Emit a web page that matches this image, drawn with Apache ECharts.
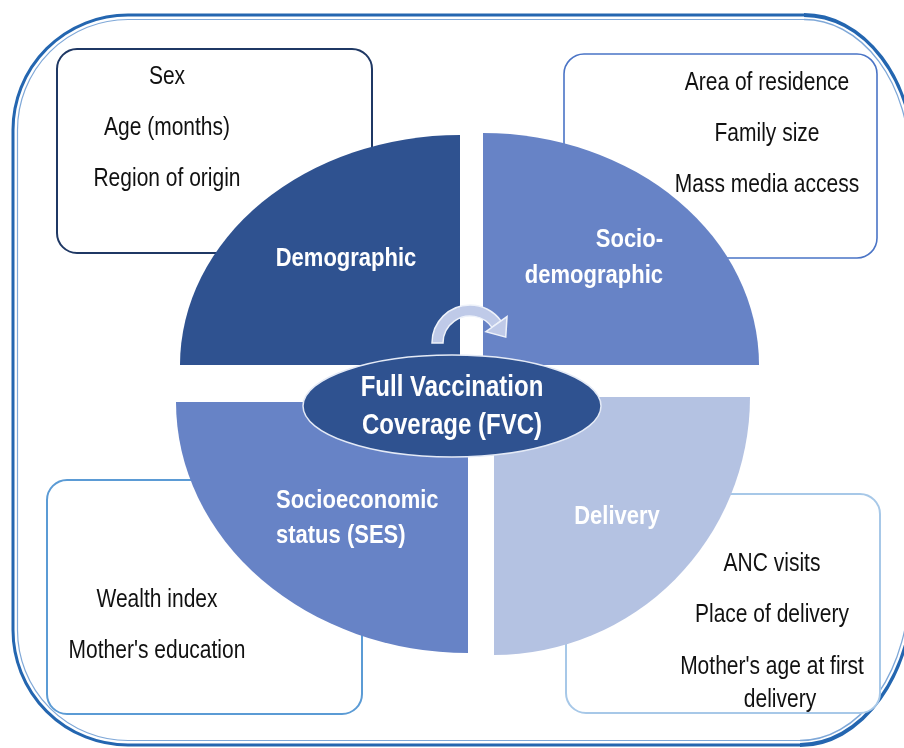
<!DOCTYPE html>
<html>
<head>
<meta charset="utf-8">
<script src="https://cdn.jsdelivr.net/npm/echarts@6/dist/echarts.min.js"></script>
<style>
  html, body { margin: 0; padding: 0; background: #ffffff; overflow: hidden; }
  #chart { width: 904px; height: 748px; }
</style>
</head>
<body>
<div id="chart"></div>
<script>
// ---- Diagram content ----
const centerLabel = ['Full Vaccination', 'Coverage (FVC)'];
const quadrantNames = ['Demographic', 'Socio-\ndemographic', 'Socioeconomic\nstatus (SES)', 'Delivery'];
const demographicFactors = ['Sex', 'Age (months)', 'Region of origin'];
const socioDemographicFactors = ['Area of residence', 'Family size', 'Mass media access'];
const sesFactors = ['Wealth index', "Mother's education"];
const deliveryFactors = ['ANC visits', 'Place of delivery', "Mother's age at first\ndelivery"];

const FONT = '"Liberation Sans", Arial, Helvetica, sans-serif';
const SY = 1.2; // vertical stretch of the reference text

function txt(x, y, text, opt) {
  opt = opt || {};
  const size = opt.size || 21;
  const weight = opt.bold ? 'bold ' : '';
  const align = opt.align || 'center';
  return {
    type: 'text', x: x, y: y, scaleY: SY, z: 50,
    style: {
      text: text, x: 0, y: 0,
      font: weight + size + 'px ' + FONT,
      fill: opt.color || '#111111',
      textAlign: align, align: align,
      textVerticalAlign: 'middle', verticalAlign: 'middle',
      lineHeight: opt.lineHeight || Math.round(size * 1.3)
    }
  };
}

function factorTexts(list, cx, y0, step, wrapStep) {
  const out = [];
  let y = y0;
  list.forEach(function (item) {
    const lines = item.split('\n');
    lines.forEach(function (ln, i) {
      out.push(txt(cx + (i > 0 ? 8 : 0), y, ln, {}));
      y += (i < lines.length - 1) ? wrapStep : 0;
    });
    y += step;
  });
  return out;
}

function quadrant(cx, cy, rx, ry, a0, a1, color) {
  return {
    type: 'sector', x: cx, y: cy, scaleX: rx / ry, z: 20,
    shape: { cx: 0, cy: 0, r: ry, r0: 0, startAngle: a0, endAngle: a1, clockwise: true },
    style: { fill: color }
  };
}

function box(x, y, w, h, color, lw) {
  return {
    type: 'rect', z: 10,
    shape: { x: x, y: y, width: w, height: h, r: 20 },
    style: { fill: '#ffffff', stroke: color, lineWidth: lw }
  };
}

const PI = Math.PI;
const elements = [];

// Outer frame: double line built from straight edges and (elliptical) corner arcs
function frame(inset, color, lw) {
  const L = 13 + inset, T = 15 + inset, B = 745 - inset, R = 914 - inset;
  const corners = [
    { cx: 128, cy: 130, rx: 115 - inset, ry: 115 - inset, a0: PI, a1: 1.5 * PI },
    { cx: 804, cy: 161, rx: 110 - inset, ry: 146 - inset, a0: 1.5 * PI, a1: 2 * PI },
    { cx: 800, cy: 584, rx: 114 - inset, ry: 161 - inset, a0: 0, a1: 0.5 * PI },
    { cx: 128, cy: 630, rx: 115 - inset, ry: 115 - inset, a0: 0.5 * PI, a1: PI }
  ];
  const st = { stroke: color, lineWidth: lw, fill: null };
  [[128, T, 804, T], [L, 130, L, 630], [128, B, 800, B], [R, 161, R, 584]].forEach(function (s) {
    elements.push({ type: 'line', z: 1, shape: { x1: s[0], y1: s[1], x2: s[2], y2: s[3] }, style: st });
  });
  corners.forEach(function (c) {
    elements.push({
      type: 'arc', z: 1, x: c.cx, y: c.cy, scaleY: c.ry / c.rx,
      shape: { cx: 0, cy: 0, r: c.rx, startAngle: c.a0, endAngle: c.a1, clockwise: true },
      style: { stroke: color, lineWidth: lw, fill: null, strokeNoScale: true }
    });
  });
}
frame(0, '#2466b0', 3);
frame(4.5, '#7fa8d8', 1.2);

// Factor boxes
elements.push(box(57, 49, 315, 204, '#1f3864', 2));
elements.push(box(564, 54, 313, 204, '#4a74c6', 1.6));
elements.push(box(47, 480, 315, 234, '#5b9bd5', 2));
elements.push(box(566, 494, 314, 219, '#a7c8e8', 2));

// Quadrants
elements.push(quadrant(460, 365, 280, 230, PI, 1.5 * PI, '#2f5290'));
elements.push(quadrant(483, 365, 276, 232, 1.5 * PI, 2 * PI, '#6783c6'));
elements.push(quadrant(468, 402, 292, 251, 0.5 * PI, PI, '#6783c6'));
elements.push(quadrant(494, 397, 256, 258, 0, 0.5 * PI, '#b4c2e2'));

// Central ellipse
elements.push({
  type: 'ellipse', z: 30,
  shape: { cx: 452, cy: 406, rx: 149, ry: 51 },
  style: { fill: '#2f5290', stroke: '#e4eaf6', lineWidth: 1.5 }
});

// Curved arrow
const ac = [470, 343], aEnd = 2 * PI - 0.62;
elements.push({
  type: 'sector', z: 35,
  shape: { cx: ac[0], cy: ac[1], r: 38, r0: 27, startAngle: PI, endAngle: aEnd, clockwise: true },
  style: { fill: '#bfcae8', stroke: '#eef2fa', lineWidth: 1.5 }
});
(function () {
  const rm = 32.5;
  const bx = ac[0] + rm * Math.cos(aEnd), by = ac[1] + rm * Math.sin(aEnd);
  const rdx = Math.cos(aEnd), rdy = Math.sin(aEnd);
  const tdx = -Math.sin(aEnd), tdy = Math.cos(aEnd);
  const hw = 13, len = 16;
  elements.push({
    type: 'polygon', z: 36,
    shape: { points: [
      [bx + rdx * hw, by + rdy * hw],
      [bx + tdx * len, by + tdy * len],
      [bx - rdx * hw, by - rdy * hw]
    ] },
    style: { fill: '#bfcae8', stroke: '#eef2fa', lineWidth: 1.5 }
  });
})();

// Quadrant labels
elements.push(txt(346, 259, quadrantNames[0], { bold: true, size: 22, color: '#ffffff' }));
elements.push(txt(663, 258, quadrantNames[1], { bold: true, size: 22, color: '#ffffff', align: 'right', lineHeight: 30 }));
elements.push(txt(276, 518, quadrantNames[2], { bold: true, size: 22, color: '#ffffff', align: 'left', lineHeight: 29 }));
elements.push(txt(617, 517, quadrantNames[3], { bold: true, size: 22, color: '#ffffff' }));

// Center label
elements.push(txt(452, 407, centerLabel.join('\n'), { bold: true, size: 24, color: '#ffffff', lineHeight: 32 }));

// Factor texts
factorTexts(demographicFactors, 167, 77, 51, 0).forEach(function (e) { elements.push(e); });
factorTexts(socioDemographicFactors, 767, 83, 51, 0).forEach(function (e) { elements.push(e); });
factorTexts(sesFactors, 157, 600, 51, 0).forEach(function (e) { elements.push(e); });
factorTexts(deliveryFactors, 772, 564, 51.5, 33).forEach(function (e) { elements.push(e); });

const chart = echarts.init(document.getElementById('chart'), null, { renderer: 'canvas' });
chart.setOption({
  backgroundColor: '#ffffff',
  animation: false,
  graphic: { elements: elements }
});
</script>
</body>
</html>
